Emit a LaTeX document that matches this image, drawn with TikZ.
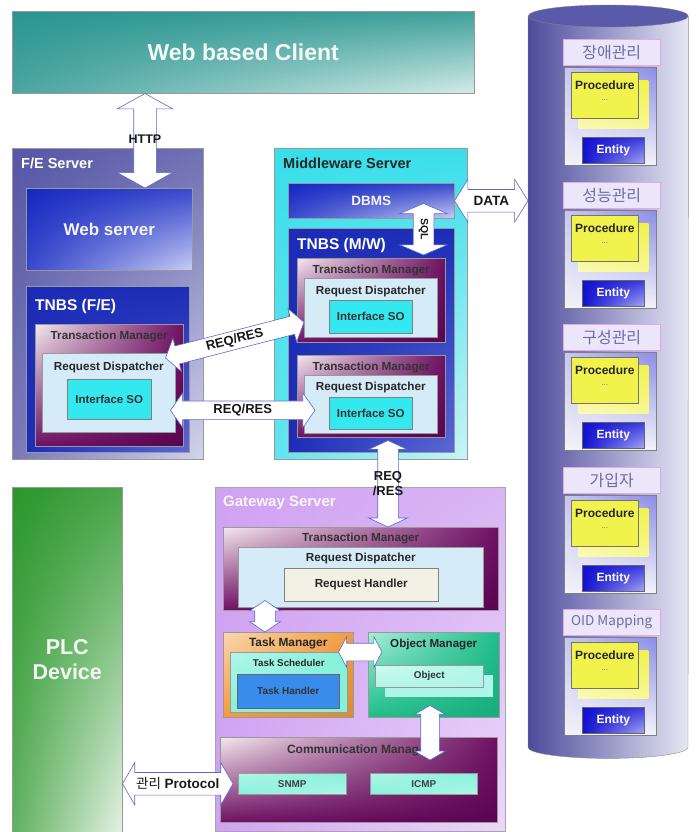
\documentclass[tikz,border=0pt]{standalone}
\usepackage{fontspec}
\setmainfont{Liberation Sans}
\newfontfamily\kr{Noto Sans CJK KR}
\usepackage{tikz}
\usetikzlibrary{positioning, calc, shapes.arrows, shadings}

\definecolor{clientA}{HTML}{2A9590}
\definecolor{clientB}{HTML}{D4ECE8}
\definecolor{feA}{HTML}{5656A6}
\definecolor{feB}{HTML}{D4D4EC}
\definecolor{webA}{HTML}{1528C2}
\definecolor{webB}{HTML}{C8CDF4}
\definecolor{tnbs}{HTML}{1C2CB6}
\definecolor{tnbsB}{HTML}{5A68D4}
\definecolor{tmA}{HTML}{F4E8EE}
\definecolor{tmB}{HTML}{6E1062}
\definecolor{tmC}{HTML}{5A0452}
\definecolor{rd}{HTML}{D6EBF8}
\definecolor{iso}{HTML}{33E8EE}
\definecolor{mwA}{HTML}{38DEEA}
\definecolor{mwB}{HTML}{C8F4F8}
\definecolor{gwA}{HTML}{D0A2F2}
\definecolor{gwB}{HTML}{ECD8FA}
\definecolor{rh}{HTML}{F2F2E4}
\definecolor{taskA}{HTML}{F8D8B0}
\definecolor{taskB}{HTML}{F39A3C}
\definecolor{mint}{HTML}{86F0DA}
\definecolor{mintA}{HTML}{B0F6E8}
\definecolor{handler}{HTML}{3A8CEC}
\definecolor{objA}{HTML}{A8EED8}
\definecolor{objB}{HTML}{1CBE8A}
\definecolor{plcA}{HTML}{2A962A}
\definecolor{plcB}{HTML}{E4F2E4}
\definecolor{cylA}{HTML}{4C4C9C}
\definecolor{cylB}{HTML}{E6E6F4}
\definecolor{cylTop}{HTML}{5A5AAA}
\definecolor{titleFill}{HTML}{ECE6FA}
\definecolor{titleRim}{HTML}{E4A8EC}
\definecolor{titleText}{HTML}{6C6CA4}
\definecolor{modA}{HTML}{C8C8F0}
\definecolor{modB}{HTML}{8C8CE8}
\definecolor{modC}{HTML}{F2F2FA}
\definecolor{procYellow}{HTML}{F2F24C}
\definecolor{entA}{HTML}{1010D0}
\definecolor{entB}{HTML}{3A3AE0}
\definecolor{entC}{HTML}{A8A8F4}
\definecolor{arrowline}{HTML}{5A6ACC}

\tikzset{
    box/.style={ % every rectangle of the drawing
        draw=#1, line width=0.5pt, inner sep=0pt, anchor=north west
    },
    box/.default=black!45,
    wh/.style 2 args={minimum width=#1, minimum height=#2},
    fs/.style={font=\bfseries\fontsize{#1}{#1}\selectfont, inner sep=0pt},
    shade4/.style n args={4}{upper left=#1, upper right=#2, lower left=#3, lower right=#4},
    grouptitle/.style={font=\kr\fontsize{#1}{#1}\selectfont, text=titleText, inner sep=0pt},
    fatarrow/.style n args={3}{ % white block arrow with a thin blue rim
        double arrow, draw=arrowline, fill=white, line width=0.6pt,
        inner sep=0pt, inner ysep=#1,
        double arrow head extend=#2, double arrow tip angle=#3
    }
}

% block arrow between two points, named #2
\newcommand\fatlink[4][]{%
    \path let \p1=#3, \p2=#4,
        \n1={atan2(\y2-\y1,\x2-\x1)}, \n2={veclen(\x2-\x1,\y2-\y1)} in
        node[#1, minimum height=\n2, rotate=\n1] (#2) at ({0.5*(\x1+\x2)},{0.5*(\y1+\y2)}) {};
}

\begin{document}
\begin{tikzpicture}[x=1pt, y=-1pt]
    \useasboundingbox (0,0) rectangle (696,832);

    % client
    \node[box=black!40, shade4={clientA}{clientA!90!white}{clientA!85!white}{clientB}, wh={462}{82}] (client) at (12,11) {};
    \node[fs=23, text=white!94!clientA] (clientT) at (client.center) {Web based Client};

    % F/E server
    \node[box=black!40, shade4={feA}{feA!85!white}{feA!80!white}{feB}, wh={191}{311}] (fe) at (12,148) {};
    \node[fs=14.5, text=white, anchor=west] (feT) at ($(fe.north west)+(9,15)$) {F/E Server};
    \node[box=black!40, shade4={webA}{webA!85!white}{webA!85!white}{webB}, wh={166}{82}] (web) at (26,188) {};
    \node[fs=17, text=white!95!webA] (webT) at (web.center) {Web server};
    \node[box=black!40, shade4={tnbs}{tnbs}{tnbs}{tnbsB}, wh={163}{166}] (fetnbs) at (26,286) {};
    \node[fs=15.5, text=white, anchor=west] (fetnbsT) at ($(fetnbs.north west)+(9,20)$) {TNBS (F/E)};
    \node[box=black!40, shade4={tmA}{tmB}{tmB}{tmC}, wh={148}{122}] (fetm) at (35,324) {};
    \node[fs=11.7, text=black!80] (fetmT) at ($(fetm.north)+(0,12)$) {Transaction Manager};
    \node[box=black!40, fill=rd, wh={133}{79}] (ferd) at (42,353) {};
    \node[fs=11.7, text=black!85] (ferdT) at ($(ferd.north)+(0,14)$) {Request Dispatcher};
    \node[box=black!50, fill=iso, wh={84}{40}] (feiso) at (67,379) {};
    \node[fs=11.5, text=black!80] (feisoT) at (feiso.center) {Interface SO};

    % middleware server
    \node[box=black!40, shade4={mwA}{mwA}{mwA!80!white}{mwB}, wh={193}{311}] (mw) at (274,148) {};
    \node[fs=14.5, text=black!85, anchor=west] (mwT) at ($(mw.north west)+(9,15)$) {Middleware Server};
    \node[box=black!40, shade4={webA}{webA!85!white}{webA!85!white}{webB}, wh={166}{35}] (dbms) at (288,183) {};
    \node[fs=13.5, text=white!95!webA] (dbmsT) at (dbms.center) {DBMS};
    \node[box=black!40, shade4={tnbs}{tnbs}{tnbs}{tnbsB}, wh={166}{224}] (mwtnbs) at (288,228) {};
    \node[fs=15.5, text=white, anchor=west] (mwtnbsT) at ($(mwtnbs.north west)+(9,17)$) {TNBS (M/W)};
    \node[box=black!40, shade4={tmA}{tmB}{tmB}{tmC}, wh={148}{84}] (tma) at (297,258) {};
    \node[fs=11.7, text=black!80] (tmaT) at ($(tma.north)+(0,12)$) {Transaction Manager};
    \node[box=black!40, fill=rd, wh={133}{59}] (rda) at (304,278) {};
    \node[fs=11.7, text=black!85] (rdaT) at ($(rda.north)+(0,13)$) {Request Dispatcher};
    \node[box=black!50, fill=iso, wh={83}{33}] (isoa) at (329,300) {};
    \node[fs=11.5, text=black!80] (isoaT) at (isoa.center) {Interface SO};
    \node[box=black!40, shade4={tmA}{tmB}{tmB}{tmC}, wh={148}{82}] (tmb) at (297,355) {};
    \node[fs=11.7, text=black!80] (tmbT) at ($(tmb.north)+(0,12)$) {Transaction Manager};
    \node[box=black!40, fill=rd, wh={133}{58}] (rdb) at (304,375) {};
    \node[fs=11.7, text=black!85] (rdbT) at ($(rdb.north)+(0,12)$) {Request Dispatcher};
    \node[box=black!50, fill=iso, wh={83}{32}] (isob) at (329,397) {};
    \node[fs=11.5, text=black!80] (isobT) at (isob.center) {Interface SO};

    % gateway server
    \node[box=black!35, shade4={gwA}{gwA!80!white}{gwA}{gwB}, wh={290}{344}] (gw) at (215,487) {};
    \node[fs=15, text=white!90!gwA, anchor=west] (gwT) at ($(gw.north west)+(8,16)$) {Gateway Server};
    \node[box=black!40, shade4={tmA}{tmB}{tmB}{tmC}, wh={275}{83}] (gwtm) at (223,527) {};
    \node[fs=11.7, text=black!80] (gwtmT) at ($(gwtm.north)+(0,11)$) {Transaction Manager};
    \node[box=black!40, fill=rd, wh={245}{60}] (gwrd) at (238,547) {};
    \node[fs=11.7, text=black!85] (gwrdT) at ($(gwrd.north)+(0,11)$) {Request Dispatcher};
    \node[box=black!50, fill=rh, wh={154}{33}] (rh) at (284,568) {};
    \node[fs=11.7, text=black!85] (rhT) at (rh.center) {Request Handler};
    \node[box=black!40, shade4={taskA}{taskB}{taskB}{taskB!90!black}, wh={130}{85}] (taskm) at (223,632) {};
    \node[fs=11.9, text=black!85] (taskmT) at ($(taskm.north)+(0,11)$) {Task Manager};
    \node[box=black!40, shade4={mintA}{mint}{mint}{mint}, wh={117}{60}] (sched) at (230,652) {};
    \node[fs=9.8, text=black!85] (schedT) at ($(sched.north)+(0,11)$) {Task Scheduler};
    \node[box=black!60, fill=handler, wh={102}{34}] (handler) at (237,674) {};
    \node[fs=10, text=black!80] (handlerT) at (handler.center) {Task Handler};
    \node[box=black!40, shade4={objA}{objB}{objB}{objB!90!black}, wh={131}{85}] (objm) at (368,632) {};
    \node[fs=11.6, text=black!85] (objmT) at ($(objm.north)+(0,13)$) {Object Manager};
    \node[box=none, fill=mintA, wh={108}{22}] (objback) at (385,675) {};
    \node[box=black!40, shade4={mintA!60!white}{mintA}{mintA}{mintA}, wh={108}{22}] (obj) at (375,665) {};
    \node[fs=9.9, text=black!80] (objT) at (obj.center) {Object};
    \node[box=black!40, shade4={tmA}{tmB}{tmB}{tmC}, wh={277}{85}] (comm) at (220,737) {};
    \node[fs=12, text=black!80] (commT) at ($(comm.north)+(0,13)$) {Communication Manager};
    \node[box=black!40, shade4={mintA}{mint}{mint}{mintA}, wh={108}{21}] (snmp) at (238,773) {};
    \node[fs=9.9, text=black!75] (snmpT) at (snmp.center) {SNMP};
    \node[box=black!40, shade4={mintA}{mint}{mint}{mintA}, wh={107}{21}] (icmp) at (370,773) {};
    \node[fs=9.9, text=black!75] (icmpT) at (icmp.center) {ICMP};

    % PLC device
    \node[box=black!40, shade4={plcA}{plcA!85!white}{plcA!75!white}{plcB}, wh={110}{345}] (plc) at (12,487) {};
    \node[fs=21.5, text=white!94!plcA, align=center] (plcT) at (plc.center) {PLC\\[3pt]Device};

    % database cylinder
    \node[wh={160}{731}, inner sep=0pt, anchor=north west] (db) at (528,16) {};
    \path[shade, left color=cylA, right color=cylB, draw=black!45]
        (db.north west) -- (db.south west) arc[start angle=180, end angle=360, x radius=80pt, y radius=11pt]
        -- (db.north east) -- cycle;
    \path[fill=cylTop, draw=black!50] (db.north) ellipse[x radius=80pt, y radius=11pt];
    \foreach \name/\ty/\size [count=\i] in {장애관리/52/16, 성능관리/195/16, 구성관리/337/16, 가입자/480/16, OID Mapping/622/13.5} {
        \node[box=titleRim, fill=titleFill, wh={97}{26}] (title\i) at (563,\ty-13) {};
        \node[grouptitle=\size] (titleT\i) at (title\i.center) {\name};
        \node[box=black!50, shade4={modA}{modB}{modC}{modC}, wh={92}{98}] (mod\i) at (564,\ty+15) {};
        \node[box=none, shade4={procYellow}{procYellow}{procYellow!40!white}{procYellow!60!white}, wh={70}{48}] (procback\i) at (578,\ty+28) {};
        \node[box=black!55, fill=procYellow, wh={67}{46}] (proc\i) at (571,\ty+20) {};
        \node[fs=12, text=black!85] (procT\i) at ($(proc\i.north)+(0,13)$) {Procedure};
        \node[fs=8, text=black!55] (dots\i) at ($(proc\i.north)+(0,28)$) {\mdseries...};
        \node[box=black!60, shade4={entA}{entB}{entA}{entC}, wh={62}{26}] (ent\i) at (582,\ty+85) {};
        \node[fs=12, text=white] (entT\i) at (ent\i.center) {Entity};
    }

    % block arrows
    \fatlink[fatarrow={11}{16.5}{122}]{http}{($(client.south west)+(133,0)$)}{($(web.north west)+(119,0)$)}
    \fatlink[fatarrow={11}{10}{116}]{data}{(dbms.east)}{(dbms.east -| db.west)}
    \fatlink[fatarrow={10}{13.5}{134}]{sql}{($(dbms.south east)+(-31,-15)$)}{($(mwtnbs.north east)+(-31,27)$)}
    \fatlink[fatarrow={9}{8}{110}]{reqa}{($(ferd.north east)+(-10,5)$)}{($(rda.west)+(0,14.5)$)}
    \fatlink[fatarrow={9}{8}{110}]{reqb}{($(ferd.east)+(-5,17.5)$)}{($(rdb.west)+(11,6)$)}
    \fatlink[fatarrow={10}{9}{130}]{reqc}{($(mwtnbs.south west)+(100,-12)$)}{($(gwtm.north west)+(165,0)$)}
    \fatlink[fatarrow={10}{5}{112}]{tmtask}{($(gwtm.south west)+(42,-10)$)}{($(taskm.north west)+(42,0)$)}
    \fatlink[fatarrow={8.5}{6.5}{124}]{taskobj}{($(taskm.north east)+(-15,20)$)}{($(objm.north west)+(14,20)$)}
    \fatlink[fatarrow={9}{6}{120}]{objcomm}{($(objm.south west)+(62,-12)$)}{($(comm.north west)+(210,23)$)}
    \fatlink[fatarrow={11}{10}{120}]{proto}{(plc.east |- snmp.west)}{($(snmp.west)+(-5,0)$)}

    % arrow labels
    \node[fs=12.5, text=black!90] (httpT) at ([yshift=2pt]http.center) {HTTP};
    \node[fs=10.5, text=black!90, rotate=-90] (sqlT) at (sql.center) {SQL};
    \node[fs=13.5, text=black!90] (dataT) at (data.center) {DATA};
    \node[fs=13, text=black!90, rotate=14.5] (reqaT) at (reqa.center) {REQ/RES};
    \node[fs=13, text=black!90] (reqbT) at (reqb.center) {REQ/RES};
    \node[fs=13, text=black!90, align=center] (reqcT) at (reqc.center) {REQ\\[2pt]/RES};
    \node[fs=13.5, text=black!90] (protoT) at (proto.center) {{\kr\mdseries 관리} Protocol};
\end{tikzpicture}
\end{document}
